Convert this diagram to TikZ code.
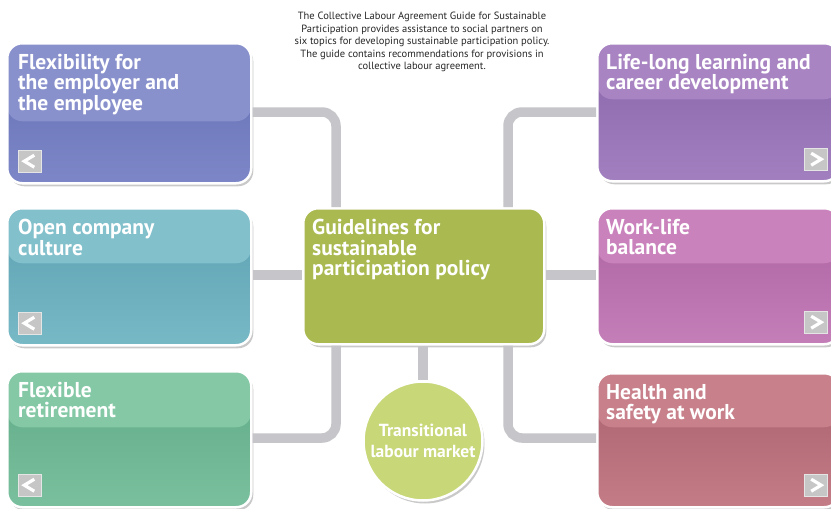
\documentclass[tikz,border=0pt]{standalone}
\usepackage{fontspec}
\setmainfont{PT Sans}
\usetikzlibrary{shadows,positioning}
\definecolor{FlexHead}{RGB}{137,145,205}
\definecolor{FlexTop}{RGB}{98,110,178}
\definecolor{FlexLow}{RGB}{125,135,200}
\definecolor{CultureHead}{RGB}{130,192,204}
\definecolor{CultureTop}{RGB}{92,160,176}
\definecolor{CultureLow}{RGB}{120,185,198}
\definecolor{RetireHead}{RGB}{132,200,166}
\definecolor{RetireTop}{RGB}{96,170,135}
\definecolor{RetireLow}{RGB}{122,192,158}
\definecolor{LearnHead}{RGB}{168,132,194}
\definecolor{LearnTop}{RGB}{136,100,168}
\definecolor{LearnLow}{RGB}{162,128,192}
\definecolor{BalanceHead}{RGB}{202,130,188}
\definecolor{BalanceTop}{RGB}{172,98,160}
\definecolor{BalanceLow}{RGB}{196,126,184}
\definecolor{HealthHead}{RGB}{200,128,138}
\definecolor{HealthTop}{RGB}{168,96,110}
\definecolor{HealthLow}{RGB}{196,124,134}
\definecolor{GuideClr}{RGB}{170,186,80}
\definecolor{MarketClr}{RGB}{200,215,120}
\definecolor{LinkClr}{RGB}{198,198,202}
\definecolor{BtnClr}{RGB}{198,198,198}

\begin{document}
\begin{tikzpicture}[x=1pt,y=-1pt,
  topic/.style={rounded corners=15pt,draw=white,line width=2.5pt,inner sep=0pt,
    anchor=north west,
    drop shadow={shadow xshift=2pt,shadow yshift=-3pt,opacity=.35,fill=black!60}},
  band/.style 2 args={path picture={\fill[#2] (path picture bounding box.north west)
    rectangle ([yshift=-#1]path picture bounding box.north east);}},
  title/.style={text=white,inner sep=0pt,align=left,anchor=north west,
    font=\bfseries\fontsize{21.5}{20.5}\selectfont},
  link/.style={draw=LinkClr,line width=9.5pt,rounded corners=14pt},
  btn/.style={fill=BtnClr,draw=black!10,line width=.6pt,minimum width=23pt,
    minimum height=22pt,inner sep=0pt},
  prevbtn/.style={btn,anchor=south west,path picture={\draw[white,line width=3.2pt]
    ([xshift=-7pt,yshift=-5pt]path picture bounding box.north east)
    -- ([xshift=6pt]path picture bounding box.west)
    -- ([xshift=-7pt,yshift=5pt]path picture bounding box.south east);}},
  nextbtn/.style={btn,anchor=south east,path picture={\draw[white,line width=3.2pt]
    ([xshift=7pt,yshift=-5pt]path picture bounding box.north west)
    -- ([xshift=-6pt]path picture bounding box.east)
    -- ([xshift=7pt,yshift=5pt]path picture bounding box.south west);}}]
\useasboundingbox[fill=white] (0,0) rectangle (831,509);

% intro text
\node[anchor=north,align=center,inner sep=0pt,text=black!85,
  font=\fontsize{10.5}{12.5}\selectfont] (intro) at (422,12)
  {The Collective Labour Agreement Guide for Sustainable\\
   Participation provides assistance to social partners on\\
   six topics for developing sustainable participation policy.\\
   The guide contains recommendations for provisions in\\
   collective labour agreement.};

% left column
\node[topic,top color=FlexTop,bottom color=FlexLow,band={78pt}{FlexHead},
  minimum width=244pt,minimum height=140pt] (flex) at (6,42) {};
\node[title] (flextext) at ([xshift=12pt,yshift=-12pt]flex.north west)
  {Flexibility for\\the employer and\\the employee};
\node[prevbtn] (flexbtn) at ([xshift=12pt,yshift=12pt]flex.south west) {};

\node[topic,top color=CultureTop,bottom color=CultureLow,band={55pt}{CultureHead},
  minimum width=244pt,minimum height=137pt] (culture) at (6,207) {};
\node[title] (culturetext) at ([xshift=12pt,yshift=-12pt]culture.north west)
  {Open company\\culture};
\node[prevbtn] (culturebtn) at ([xshift=12pt,yshift=12pt]culture.south west) {};

\node[topic,top color=RetireTop,bottom color=RetireLow,band={56pt}{RetireHead},
  minimum width=244pt,minimum height=136pt] (retire) at (6,370) {};
\node[title] (retiretext) at ([xshift=12pt,yshift=-12pt]retire.north west)
  {Flexible\\retirement};
\node[prevbtn] (retirebtn) at ([xshift=12pt,yshift=12pt]retire.south west) {};

% right column
\node[topic,top color=LearnTop,bottom color=LearnLow,band={56pt}{LearnHead},
  minimum width=242pt,minimum height=138pt] (learn) at (596,42) {};
\node[title] (learntext) at ([xshift=10pt,yshift=-12pt]learn.north west)
  {Life-long learning and\\career development};
\node[nextbtn] (learnbtn) at ([xshift=-13pt,yshift=12pt]learn.south east) {};

\node[topic,top color=BalanceTop,bottom color=BalanceLow,band={55pt}{BalanceHead},
  minimum width=242pt,minimum height=136pt] (balance) at (596,207) {};
\node[title] (balancetext) at ([xshift=10pt,yshift=-12pt]balance.north west)
  {Work-life\\balance};
\node[nextbtn] (balancebtn) at ([xshift=-13pt,yshift=12pt]balance.south east) {};

\node[topic,top color=HealthTop,bottom color=HealthLow,band={54pt}{HealthHead},
  minimum width=242pt,minimum height=134pt] (health) at (596,372) {};
\node[title] (healthtext) at ([xshift=10pt,yshift=-12pt]health.north west)
  {Health and\\safety at work};
\node[nextbtn] (healthbtn) at ([xshift=-13pt,yshift=12pt]health.south east) {};

% centre
\node[topic,fill=GuideClr,minimum width=241pt,minimum height=136pt] (guide) at (302,207) {};
\node[title] (guidetext) at ([xshift=10pt,yshift=-12pt]guide.north west)
  {Guidelines for\\sustainable\\participation policy};
\node[circle,fill=MarketClr,draw=white,line width=2.5pt,minimum size=119pt,inner sep=0pt,
  drop shadow={shadow xshift=2pt,shadow yshift=-3pt,opacity=.35,fill=black!60},
  text=white,align=center,font=\bfseries\fontsize{17.5}{21}\selectfont]
  (market) at (423,441) {Transitional\\labour market};

% connectors
\draw[link] (flex.east |- 0,112) -| (guide.north -| 336,0);
\draw[link] (learn.west |- 0,112) -| (guide.north -| 508,0);
\draw[link] (culture.east |- 0,275) -- (guide.west |- 0,275);
\draw[link] (balance.west |- 0,275) -- (guide.east |- 0,275);
\draw[link] (retire.east |- 0,438) -| (guide.south -| 336,0);
\draw[link] (health.west |- 0,438) -| (guide.south -| 508,0);
\draw[link] (market.north |- guide.south) -- (market.north);

\end{tikzpicture}
\end{document}
